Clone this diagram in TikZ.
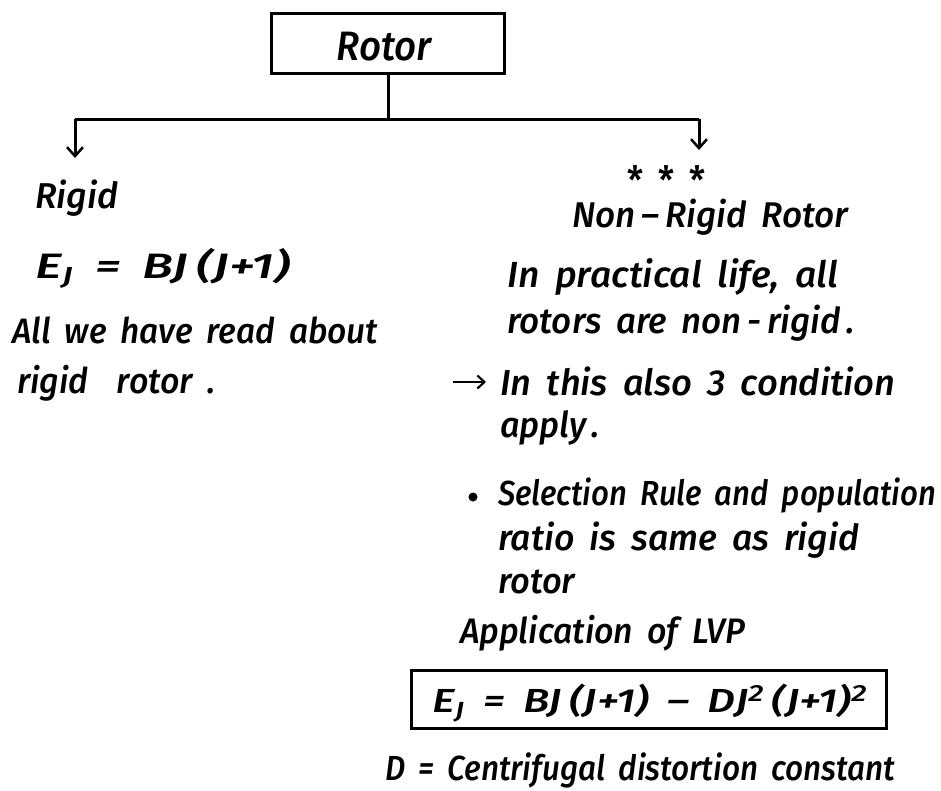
\documentclass[tikz,border=0pt]{standalone}
\usepackage{fontspec}
\setmainfont{Fira Sans}[UprightFont=* Medium, ItalicFont=* Medium Italic]
\usepackage{graphicx}
\usetikzlibrary{arrows.meta}

% set a line of handwriting to a given width: stretched mostly across,
% only a quarter of it upwards, so the lines keep about the same height
\newsavebox\hwbox
\newcommand\hw[2]{%
  \sbox\hwbox{\spaceskip=0.42em plus 0.1em\relax #2}%
  \pgfmathsetmacro\hwx{#1/\wd\hwbox}%
  \pgfmathsetmacro\hwy{(3+\hwx)/4}%
  \scalebox{\hwx}[\hwy]{\usebox\hwbox}}

\tikzset{
  txt/.style={inner sep=0pt, anchor=base west, font=\fontsize{36}{40}\selectfont\itshape},
  eqn/.style={inner sep=0pt, anchor=base west, font=\fontsize{30}{34}\selectfont\itshape},
  frame/.style={draw, line width=3pt},
  link/.style={line width=3pt},
  tip/.style={line width=3pt, -{Straight Barb[length=9pt, width=16pt, line width=2.5pt]}}
}

\begin{document}
\begin{tikzpicture}[x=1pt, y=-1pt]
  \useasboundingbox (0,0) rectangle (941,790);

  % root
  \node[frame, minimum width=233pt, minimum height=60pt, inner sep=0pt] (root) at (388,43) {};
  \node[inner sep=0pt, anchor=base, font=\fontsize{42}{46}\selectfont\itshape] (rootlbl) at (384,60) {\hw{95}{Rotor}};

  % branches
  \coordinate (split) at (388,119);
  \coordinate (lcorner) at (75,119);
  \coordinate (rcorner) at (699,119);
  \coordinate (lend) at (75,158);
  \coordinate (rend) at (699,150);
  \draw[link] (root.south) -- (split);
  \draw[link] (lcorner) -- (rcorner);
  \draw[tip] (lcorner) -- (lend);
  \draw[tip] (rcorner) -- (rend);

  % left column
  \node[txt] (rigid) at (35,208) {\hw{83}{Rigid}};
  \node[eqn] (eqa) at (35,278) {\hw{255}{E\textsubscript{J} = BJ\,(J+1)}};
  \node[txt] (lineA) at (12,343) {\hw{366}{All we have read about}};
  \node[txt] (lineB) at (17,393) {\hw{198}{rigid\ \ rotor\ .}};

  % right column
  \node[inner sep=0pt, anchor=north, font=\fontsize{40}{40}\selectfont] (stars) at (666,165) {\hw{78}{* * *}};
  \node[txt] (nonrigid) at (572,227) {\hw{276}{Non\,–\,Rigid Rotor}};
  \node[txt] (prac) at (507,287) {\hw{331}{In practical life, all}};
  \node[txt] (rots) at (507,333) {\hw{348}{rotors are non\,-\,rigid\,.}};

  \coordinate (arrs) at (453,382);
  \coordinate (arre) at (486,382);
  \draw[line width=2.5pt, -{Straight Barb[length=7pt, width=13pt, line width=2.2pt]}] (arrs) -- (arre);
  \node[txt] (cond) at (500,395) {\hw{395}{In this also 3 condition}};
  \node[txt] (apply) at (500,437) {\hw{100}{apply\,.}};

  \fill (473,497) circle (4.5pt);
  \node[txt] (sel) at (498,505) {\hw{438}{Selection Rule and population}};
  \node[txt] (ratio) at (498,550) {\hw{361}{ratio is same as rigid}};
  \node[txt] (rot2) at (498,593) {\hw{77}{rotor}};

  \node[txt] (lvp) at (460,643) {\hw{285}{Application of LVP}};
  \node[frame, minimum width=475pt, minimum height=58pt, inner sep=0pt] (eqbox) at (649,699) {};
  \node[eqn] (eqb) at (432,712) {\hw{435}{E\textsubscript{J} = BJ\,(J+1) – DJ\textsuperscript{2}\,(J+1)\textsuperscript{2}}};
  \node[txt] (dconst) at (385,780) {\hw{510}{D = Centrifugal distortion constant}};
\end{tikzpicture}
\end{document}
